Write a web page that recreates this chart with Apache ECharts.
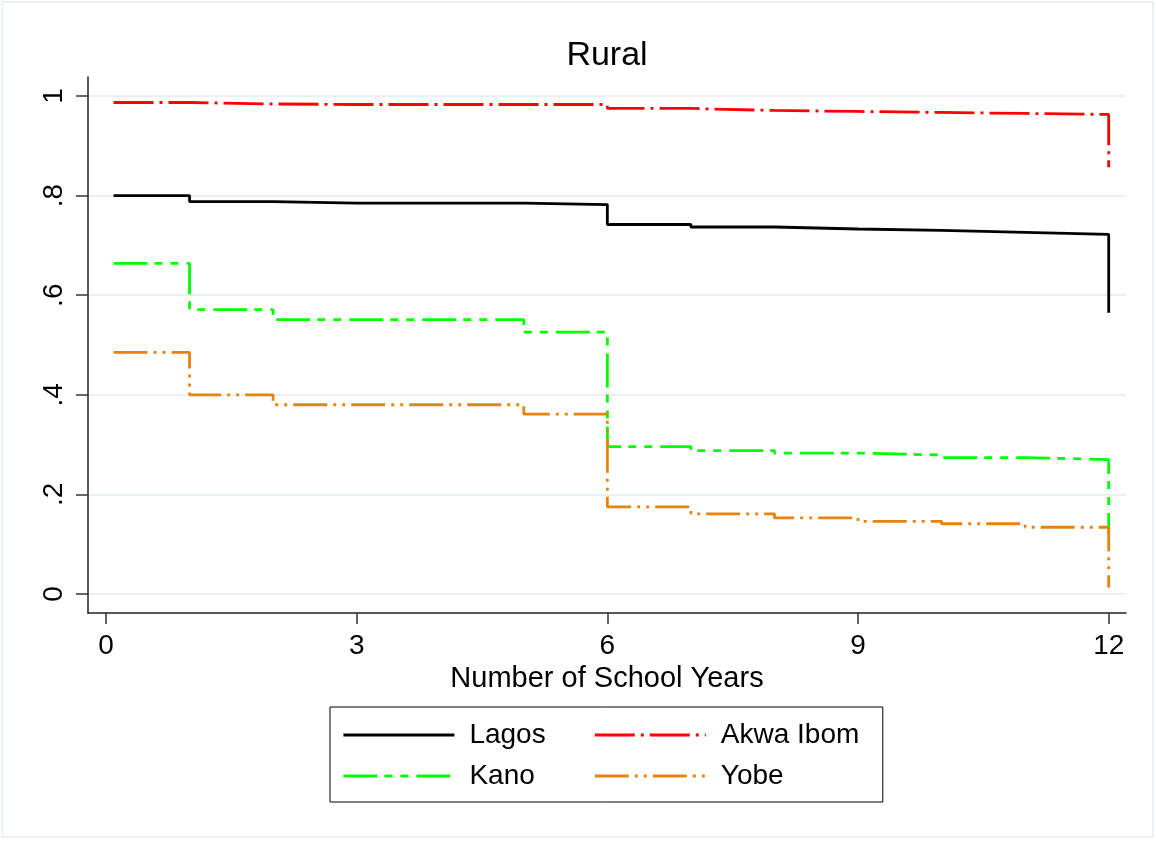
<!DOCTYPE html>
<html>
<head>
<meta charset="utf-8">
<script src="https://cdn.jsdelivr.net/npm/echarts@6/dist/echarts.min.js"></script>
<style>
  html, body { margin: 0; padding: 0; background: #fff; }
  #chart { width: 1156px; height: 841px; }
</style>
</head>
<body>
<div id="chart"></div>
<script>
// ---- Data ----
const times = [0.09, 1, 2, 3, 4, 5, 6, 7, 8, 9, 10, 11, 12];
const lagos    = [0.800, 0.788, 0.785, 0.785, 0.785, 0.782, 0.742, 0.737, 0.733, 0.730, 0.726, 0.722, 0.565];
const akwaIbom = [0.987, 0.984, 0.983, 0.983, 0.983, 0.983, 0.975, 0.971, 0.969, 0.967, 0.965, 0.963, 0.857];
const kano     = [0.664, 0.571, 0.551, 0.551, 0.551, 0.526, 0.296, 0.288, 0.283, 0.279, 0.274, 0.270, 0.123];
const yobe     = [0.485, 0.400, 0.380, 0.380, 0.380, 0.361, 0.175, 0.161, 0.153, 0.146, 0.141, 0.134, 0.013];
const xTicks = [0, 3, 6, 9, 12];
const yTicks = [0, 0.2, 0.4, 0.6, 0.8, 1];
const seriesNames = ['Lagos', 'Akwa Ibom', 'Kano', 'Yobe'];

const FONT = '"Liberation Sans", Arial, sans-serif';
const pairs = v => times.map((t, i) => [t, v[i]]);

function mkSeries(name, vals, color, dash) {
  return {
    name: name,
    type: 'line',
    step: 'end',
    symbol: 'none',
    data: pairs(vals),
    lineStyle: { color: color, width: 2.8, type: dash },
    itemStyle: { color: color },
    animation: false
  };
}

const chart = echarts.init(document.getElementById('chart'), null, { renderer: 'canvas' });
chart.setOption({
  backgroundColor: '#ffffff',
  animation: false,
  title: {
    text: 'Rural',
    left: 607, top: 39, textAlign: 'center',
    padding: 0,
    textStyle: { fontFamily: FONT, fontSize: 34, fontWeight: 'normal', color: '#000' }
  },
  grid: { left: 88, right: 30, top: 77, bottom: 228, containLabel: false },
  xAxis: {
    type: 'value',
    min: -0.2154, max: 12.207,
    name: 'Number of School Years',
    nameLocation: 'middle',
    nameGap: 44,
    nameTextStyle: { fontFamily: FONT, fontSize: 29, color: '#000', verticalAlign: 'top' },
    axisLine: { show: true, onZero: false, lineStyle: { color: '#222', width: 1.5 } },
    axisTick: { show: true, length: 11, customValues: xTicks, lineStyle: { color: '#333', width: 1.5 } },
    axisLabel: { customValues: xTicks, margin: 19, fontFamily: FONT, fontSize: 28, color: '#000' },
    splitLine: { show: false }
  },
  yAxis: {
    type: 'value',
    min: -0.0382, max: 1.0382,
    axisLine: { show: true, onZero: false, lineStyle: { color: '#222', width: 1.5 } },
    axisTick: { show: true, length: 12, customValues: yTicks, lineStyle: { color: '#333', width: 1.5 } },
    axisLabel: {
      customValues: yTicks, rotate: 90, margin: 20,
      fontFamily: FONT, fontSize: 28, color: '#000',
      formatter: v => (v === 0 ? '0' : v === 1 ? '1' : String(+v.toFixed(1)).replace(/^0\./, '.'))
    },
    splitLine: { show: true, lineStyle: { color: '#e8f0f1', width: 2 } }
  },
  legend: {
    data: seriesNames,
    left: 330, top: 707,
    width: 530,
    orient: 'horizontal',
    padding: [12, 15, 10, 12],
    itemGap: 9,
    itemWidth: 111,
    itemHeight: 20,
    itemStyle: { opacity: 0 },
    lineStyle: { width: 2.8 },
    borderColor: '#000',
    borderWidth: 1,
    backgroundColor: '#fff',
    textStyle: {
      fontFamily: FONT, fontSize: 28, color: '#000', lineHeight: 32,
      rich: {
        s: { width: 10, fontSize: 28, lineHeight: 32 },
        l: { width: 115, fontFamily: FONT, fontSize: 28, lineHeight: 32, color: '#000' },
        r: { width: 147, fontFamily: FONT, fontSize: 28, lineHeight: 32, color: '#000' }
      }
    },
    formatter: name => (name === 'Lagos' || name === 'Kano') ? '{s| }{l|' + name + '}' : '{s| }{r|' + name + '}'
  },
  graphic: [{
    type: 'rect', silent: true, z: -1,
    shape: { x: 2, y: 2, width: 1151, height: 835 },
    style: { fill: 'none', stroke: '#e6eeee', lineWidth: 1.5 }
  }],
  series: [
    mkSeries('Lagos', lagos, '#000000', 'solid'),
    mkSeries('Akwa Ibom', akwaIbom, '#ff0000', [40, 6, 3, 6]),
    mkSeries('Kano', kano, '#00ff00', [34, 7, 8, 8, 8, 8]),
    mkSeries('Yobe', yobe, '#e8820e', [34, 6, 3, 6, 3, 6])
  ]
});
</script>
</body>
</html>
